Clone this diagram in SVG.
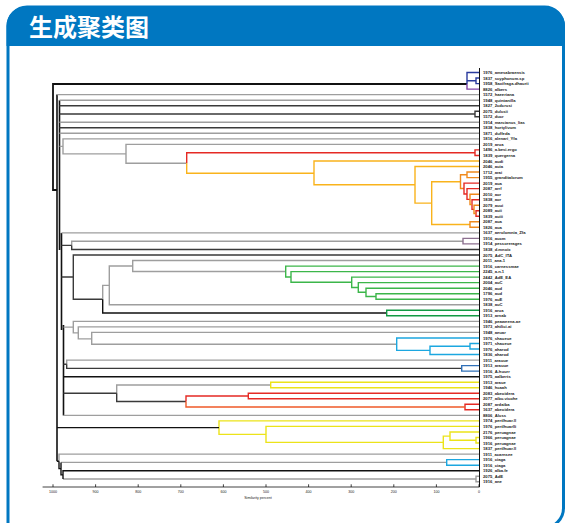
<svg xmlns="http://www.w3.org/2000/svg" width="565" height="523" viewBox="0 0 565 523">
<style>
.t{font-family:"Noto Sans CJK SC","Noto Sans",sans-serif;font-weight:bold;font-size:24px;fill:#fff}
.lb{font-family:"Liberation Sans",Arial,sans-serif;font-size:4.2px;font-weight:bold;fill:#222}
.ax{font-family:"Liberation Sans",Arial,sans-serif;font-size:3.6px;fill:#222}
#conn path{fill:none;stroke-width:1.4;stroke-linejoin:miter}
.g{stroke:#9e9e9e}.d{stroke:#3a3a3a}.k{stroke:#111}
.bl{stroke:#2a3b9e}.pu{stroke:#8246a8}
.or{stroke:#f9b31c}.oo{stroke:#f08a1c}.re{stroke:#e52a24}.rr{stroke:#ef5a28}
.gr{stroke:#3cb64a}.dg{stroke:#139a44}
.cy{stroke:#1ca7e0}.bu{stroke:#2f70b8}
.ye{stroke:#ece31a}.pg{stroke:#8d7090}
</style>
<rect width="565" height="523" fill="#fff"/>
<g id="panel">
<path d="M8,528 V26 A19,19 0 0 1 27,7 H544 A19,19 0 0 1 563.5,26 V508 A20,20 0 0 1 543.5,528 Z" fill="#fff" stroke="#0077c1" stroke-width="3"/>
<path d="M6.5,46 V26 A19.5,19.5 0 0 1 26,6.5 H545 A20,20 0 0 1 565,26.5 V46 Z" fill="#0077c1"/>
<text class="t" x="29" y="36">生成聚类图</text>
</g>
<g id="conn">
<path class="k" style="stroke-width:1.8" d="M467,84 H53 V190 H57"/>
<path class="bl" d="M479,72.5 H467 V84 M479,78 H476 V83.6 H479 M476,80.8 H467"/>
<path class="pu" d="M467,84 V89.1 H479"/>
<path class="k" style="stroke-width:1.6" d="M57,94.6 V461.3 M59.5,100.2 V250 M61.5,232.9 V330 M63.5,325 V415.4"/>
<path class="g" d="M57,94.6 H479 M59.5,100.2 H479 M59.5,122.3 H479 M59.5,133.3 H479"/>
<path class="d" d="M59.5,105.7 H479 M479,111.2 H475 V116.7 H479 M475,114 H59.5 M59.5,127.8 H479"/>
<path class="g" d="M59.5,146.4 H63 M479,138.9 H63 V153.9 H126 M479,144.4 H126 V163.3 H186.7"/>
<path class="re" d="M186.7,163.3 V152.7 H475 M479,149.9 H475 V155.5 H479"/>
<path class="or" d="M186.7,163.3 V173.3 H314 M479,161 H314 V184.8 H415 M479,166.5 H415 V203.1 H431.7 M460.5,181.7 H431.7 V224.5 H470"/>
<path class="oo" d="M479,221.8 H470 V227.3 H479 M467,174.8 H460.5 V188.5 H464 M479,172 H467 V177.6 H479"/>
<path class="re" d="M479,183.1 H464 V194 H467 M479,188.6 H467 V199.4 H470 M479,199.7 H472 V209.4 H474 M479,210.8 H476 V216.3 H479"/>
<path class="oo" d="M479,194.2 H470 V204.5 H472 M479,205.2 H474 V213.5 H476"/>
<path class="g" d="M61.5,232.9 H479 M463,241.2 H71.7 V245.4"/>
<path class="pg" d="M479,238.4 H463 V243.9 H479"/>
<path class="d" d="M71.7,245.4 V249.5 H479 M61.5,245.4 H71.7"/>
<path class="d" d="M479,255 H73.3 V299.2 H102.7 M73.3,277 H61.5"/>
<path class="g" d="M109.3,285.4 H102.7 V299.2"/>
<path class="k" d="M102.7,299.2 V313 H386.7"/>
<path class="g" d="M132.7,266 H109.3 V304.8 H479"/>
<path class="g" d="M479,260.5 H132.7 V271.5 H285.7"/>
<path class="gr" d="M479,266.1 H285.7 V277 H291 M479,271.6 H291 V282.3 H351.7 M479,277.1 H351.7 V287.5 H358.3 M479,282.6 H358.3 V292.3 H366 M479,288.2 H366 V296.45 H376 M479,293.7 H376 V299.2 H479"/>
<path class="dg" d="M479,310.3 H386.7 V315.8 H479"/>
<path class="g" d="M479,321.4 H73.3 V332.9 H78.3 M479,326.9 H78.3 V338.9 H91.7 M479,332.4 H91.7 V344.2 H396.7 M73.3,327.1 H63.5"/>
<path class="cy" d="M479,338 H396.7 V350.4 H430 M470,346.25 H430 V354.5 H479 M479,343.5 H470 V349 H479"/>
<path class="g" d="M479,360.1 H66.7 V364.2"/>
<path class="d" d="M66.7,364.2 V368.35 H461.7 M66.7,364.2 H63.5"/>
<path class="bu" d="M479,365.6 H461.7 V371.1 H479"/>
<path class="k" d="M63.5,376.7 H479"/>
<path class="g" d="M270.7,385 H116.7 V393.3"/>
<path class="d" d="M116.7,393.3 V401.5 H186 M116.7,393.3 H63.5"/>
<path class="ye" d="M479,382.2 H270.7 V387.7 H479"/>
<path class="re" d="M248.3,396 H186 V401.5 M479,393.3 H248.3 V398.8 H479 M479,404.3 H465 V409.8 H479"/>
<path class="rr" d="M186,401.5 V407 H465"/>
<path class="g" d="M63.5,415.4 H479"/>
<path class="ye" d="M479,420.9 H219 V434.4 H266 M479,426.4 H266 V442.4 H443.3 M450,436.1 H443.3 V448.6 H479 M479,432 H450 V440.25 H476 M479,437.5 H476 V443 H479"/>
<path class="k" d="M219,427.6 H57"/>
<path class="g" d="M479,454.1 H59 V461.3 M446.7,462.4 H61 M479,476.2 H476 V481.7 H479 M63,479 H476"/>
<path class="k" d="M59,461.3 V468.6 H61 M61,462.4 V474.9 H63 M479,470.7 H63 V479 M59,461.3 H57"/>
<path class="cy" d="M479,459.6 H446.7 V465.2 H479"/>
<path class="k" style="stroke-width:1" d="M479.5,68 V487"/>
<path class="k" style="stroke-width:0.8" d="M42.6,487 H479.5 M53,484.3 V487 M95.6,484.3 V487 M138.2,484.3 V487 M180.8,484.3 V487 M223.4,484.3 V487 M266,484.3 V487 M308.6,484.3 V487 M351.2,484.3 V487 M393.8,484.3 V487 M436.4,484.3 V487 M479,484.3 V487"/>
</g>
<g id="axis" class="ax" text-anchor="middle">
<text x="53" y="493">1000</text><text x="95.6" y="493">900</text><text x="138.2" y="493">800</text><text x="180.8" y="493">700</text><text x="223.4" y="493">600</text><text x="266" y="493">500</text><text x="308.6" y="493">400</text><text x="351.2" y="493">300</text><text x="393.8" y="493">200</text><text x="436.4" y="493">100</text><text x="479" y="493">0</text>
<text x="258" y="498.5">Similarity percent</text>
</g>
<g id="n0"><text class="lb" x="483" y="74">1976_amesabraensis</text></g>
<g id="n1"><text class="lb" x="483" y="79.5">1837_scyphonum.sp</text></g>
<g id="n2"><text class="lb" x="483" y="85.1">1958_Saxifraga.dhaurii</text></g>
<g id="n3"><text class="lb" x="483" y="90.6">8826_albers</text></g>
<g id="n4"><text class="lb" x="483" y="96.1">1572_haeeriana</text></g>
<g id="n5"><text class="lb" x="483" y="101.7">1948_quintanilla</text></g>
<g id="n6"><text class="lb" x="483" y="107.2">1827_2cdcrusi</text></g>
<g id="n7"><text class="lb" x="483" y="112.7">2075_dulcsii</text></g>
<g id="n8"><text class="lb" x="483" y="118.2">1572_ducr</text></g>
<g id="n9"><text class="lb" x="483" y="123.8">1914_marcianus_lias</text></g>
<g id="n10"><text class="lb" x="483" y="129.3">1838_hortylivum</text></g>
<g id="n11"><text class="lb" x="483" y="134.8">1871_duffeda</text></g>
<g id="n12"><text class="lb" x="483" y="140.4">1816_alenari_Yfa</text></g>
<g id="n13"><text class="lb" x="483" y="145.9">2019_arua</text></g>
<g id="n14"><text class="lb" x="483" y="151.4">1496_a.besi.ergo</text></g>
<g id="n15"><text class="lb" x="483" y="157">1839_quergerna</text></g>
<g id="n16"><text class="lb" x="483" y="162.5">2046_audi</text></g>
<g id="n17"><text class="lb" x="483" y="168">2046_auia</text></g>
<g id="n18"><text class="lb" x="483" y="173.5">1712_arai</text></g>
<g id="n19"><text class="lb" x="483" y="179.1">1955_granditalorum</text></g>
<g id="n20"><text class="lb" x="483" y="184.6">2019_aua</text></g>
<g id="n21"><text class="lb" x="483" y="190.1">2087_arrf</text></g>
<g id="n22"><text class="lb" x="483" y="195.7">2010_aor</text></g>
<g id="n23"><text class="lb" x="483" y="201.2">1838_aor</text></g>
<g id="n24"><text class="lb" x="483" y="206.7">2079_auui</text></g>
<g id="n25"><text class="lb" x="483" y="212.3">2089_auii</text></g>
<g id="n26"><text class="lb" x="483" y="217.8">1839_auiii</text></g>
<g id="n27"><text class="lb" x="483" y="223.3">2087_aua</text></g>
<g id="n28"><text class="lb" x="483" y="228.8">1826_aua</text></g>
<g id="n29"><text class="lb" x="483" y="234.4">1637_aerolomnia_Zfa</text></g>
<g id="n30"><text class="lb" x="483" y="239.9">1916_aucm</text></g>
<g id="n31"><text class="lb" x="483" y="245.4">1914_pessorerages</text></g>
<g id="n32"><text class="lb" x="483" y="251">1838_d.mnoix</text></g>
<g id="n33"><text class="lb" x="483" y="256.5">2075_AdC_ITA</text></g>
<g id="n34"><text class="lb" x="483" y="262">2011_ana.1</text></g>
<g id="n35"><text class="lb" x="483" y="267.6">1916_carnessmae</text></g>
<g id="n36"><text class="lb" x="483" y="273.1">2245_a.n.1</text></g>
<g id="n37"><text class="lb" x="483" y="278.6">2442_AdE_EA</text></g>
<g id="n38"><text class="lb" x="483" y="284.1">2004_auC</text></g>
<g id="n39"><text class="lb" x="483" y="289.7">2046_aud</text></g>
<g id="n40"><text class="lb" x="483" y="295.2">1796_aud</text></g>
<g id="n41"><text class="lb" x="483" y="300.7">1976_auE</text></g>
<g id="n42"><text class="lb" x="483" y="306.3">1838_auC</text></g>
<g id="n43"><text class="lb" x="483" y="311.8">1916_arua</text></g>
<g id="n44"><text class="lb" x="483" y="317.3">1913_arnab</text></g>
<g id="n45"><text class="lb" x="483" y="322.9">1946_peaweena.ae</text></g>
<g id="n46"><text class="lb" x="483" y="328.4">1973_ahtlici.ai</text></g>
<g id="n47"><text class="lb" x="483" y="333.9">1948_aeuar</text></g>
<g id="n48"><text class="lb" x="483" y="339.5">1976_shaueue</text></g>
<g id="n49"><text class="lb" x="483" y="345">1971_shaueue</text></g>
<g id="n50"><text class="lb" x="483" y="350.5">1976_aharod</text></g>
<g id="n51"><text class="lb" x="483" y="356">1836_aharod</text></g>
<g id="n52"><text class="lb" x="483" y="361.6">1911_arauue</text></g>
<g id="n53"><text class="lb" x="483" y="367.1">1913_arauue</text></g>
<g id="n54"><text class="lb" x="483" y="372.6">1916_A.huurr</text></g>
<g id="n55"><text class="lb" x="483" y="378.2">1975_aalberts</text></g>
<g id="n56"><text class="lb" x="483" y="383.7">1913_araue</text></g>
<g id="n57"><text class="lb" x="483" y="389.2">1946_hcaah</text></g>
<g id="n58"><text class="lb" x="483" y="394.8">2083_abeoidera</text></g>
<g id="n59"><text class="lb" x="483" y="400.3">2077_aibu.vicohe</text></g>
<g id="n60"><text class="lb" x="483" y="405.8">2087_ardaiba</text></g>
<g id="n61"><text class="lb" x="483" y="411.3">1637_abeoidera</text></g>
<g id="n62"><text class="lb" x="483" y="416.9">8806_Aluss</text></g>
<g id="n63"><text class="lb" x="483" y="422.4">1974_pertlhuar.ll</text></g>
<g id="n64"><text class="lb" x="483" y="427.9">1976_pertlhuarlli</text></g>
<g id="n65"><text class="lb" x="483" y="433.5">2176_peruagnae</text></g>
<g id="n66"><text class="lb" x="483" y="439">1966_peruagnae</text></g>
<g id="n67"><text class="lb" x="483" y="444.5">1916_peruagnae</text></g>
<g id="n68"><text class="lb" x="483" y="450.1">1837_pertlhuar.ll</text></g>
<g id="n69"><text class="lb" x="483" y="455.6">1911_acarnsee</text></g>
<g id="n70"><text class="lb" x="483" y="461.1">1916_ciaga</text></g>
<g id="n71"><text class="lb" x="483" y="466.7">1916_ciaga</text></g>
<g id="n72"><text class="lb" x="483" y="472.2">1926_alba.fe</text></g>
<g id="n73"><text class="lb" x="483" y="477.7">2075_AdE</text></g>
<g id="n74"><text class="lb" x="483" y="483.2">1916_ane</text></g>
</svg>
